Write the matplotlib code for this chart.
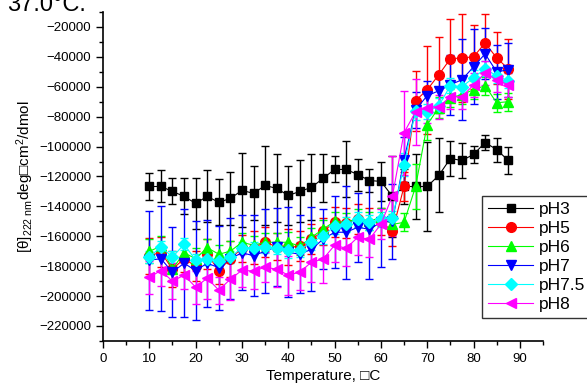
import numpy as np
import matplotlib.pyplot as plt
from matplotlib.ticker import MultipleLocator
from matplotlib.lines import Line2D

plt.rcParams['font.family'] = ['Liberation Sans', 'DejaVu Sans']
plt.rcParams['mathtext.fontset'] = 'custom'
plt.rcParams['mathtext.rm'] = 'Liberation Sans'
plt.rcParams['mathtext.it'] = 'Liberation Sans'

temps = [10, 12.5, 15, 17.5, 20, 22.5, 25, 27.5, 30, 32.5, 35, 37.5, 40, 42.5, 45, 47.5,
         50, 52.5, 55, 57.5, 60, 62.5, 65, 67.5, 70, 72.5, 75, 77.5, 80, 82.5, 85, 87.5]

labels = ['pH3', 'pH5', 'pH6', 'pH7', 'pH7.5', 'pH8']

ph3 = [-126700, -126700, -130000, -133300, -138000, -133300, -137300, -134700, -129300, -131300,
       -126000, -128000, -132700, -130000, -127300, -121300, -115300, -115300, -118700, -122700,
       -123300, -133300, -126700, -126700, -126700, -119300, -108000, -109300, -105300, -97300,
       -102000, -109300]
ph3_err = [9300, 10700, 8700, 12000, 17300, 17300, 15300, 18000, 24700, 18000, 26700, 22700, 20000,
           20700, 22000, 16000, 8700, 18700, 10700, 8000, 13300, 27000, 12000, 22000, 30000, 24700,
           12000, 12000, 6000, 5300, 8000, 9300]

ph5 = [-173000, -170700, -182000, -175000, -180000, -172000, -183000, -175000, -168000, -167600,
       -164000, -167000, -167300, -166700, -162000, -156700, -150700, -151300, -148700, -151300,
       -150000, -156700, -126700, -69300, -62000, -52000, -41300, -40700, -40000, -30700, -40700,
       -48000]
ph5_err = [12000, 10000, 12000, 9000, 10000, 10000, 9000, 12000, 9000, 11000, 10000, 9000, 12000,
           10000, 10000, 9000, 10000, 10000, 10000, 10000, 9000, 10000, 10000, 20000, 29300, 25300,
           26700, 29300, 21300, 19300, 17300, 20000]

ph6 = [-170000, -166700, -182000, -171000, -175000, -167600, -172000, -170000, -164000, -166000,
       -164000, -164000, -164000, -166700, -160700, -155300, -150000, -150700, -148000, -150000,
       -147300, -152000, -150700, -126700, -85300, -74000, -67300, -65300, -62000, -59300, -70700,
       -70000]
ph6_err = [8000, 7000, 7000, 6000, 7000, 6000, 6000, 7000, 6000, 6000, 6000, 6000, 7000, 6000, 6000,
           6000, 6000, 6000, 6000, 6000, 6000, 7000, 6000, 15000, 10000, 7000, 6000, 6000, 6000, 6000,
           6000, 6000]

ph7 = [-176000, -175000, -184000, -178000, -183000, -178000, -181000, -175000, -171000, -173000,
       -170000, -167000, -170700, -172000, -168700, -162000, -157300, -157300, -154000, -155300,
       -150700, -150000, -108700, -75300, -66000, -62700, -58700, -55300, -46700, -38000, -50000,
       -48700]
ph7_err = [33000, 35000, 30000, 36000, 33000, 29000, 28000, 27000, 25000, 27000, 28000, 26000, 30000,
           26000, 28000, 20000, 24000, 31000, 23000, 33000, 30000, 25000, 15000, 12000, 10000, 12000,
           20000, 27000, 25000, 17000, 18000, 18000]

ph75 = [-174000, -167000, -174000, -165300, -176000, -175000, -176400, -174000, -167600, -167600,
        -167000, -168000, -169300, -169000, -164000, -160000, -153300, -152000, -148700, -150700,
        -148700, -148000, -112000, -76000, -76700, -72700, -59300, -60000, -54000, -48000, -52700,
        -56000]
ph75_err = [4000, 4000, 4000, 4000, 4000, 4000, 4000, 4000, 4000, 4000, 4000, 4000, 5000, 5000, 5000,
            5000, 5000, 5000, 5000, 5000, 5000, 5000, 8000, 6000, 5000, 5000, 5000, 5000, 5000, 5000,
            5000, 5000]

ph8 = [-187300, -183000, -190000, -186000, -194000, -188000, -196000, -188700, -182700, -183300,
       -180700, -182000, -186000, -184000, -177300, -175300, -166000, -168000, -160700, -162000,
       -152000, -133000, -90700, -76700, -74000, -73300, -66700, -66700, -58700, -50700, -55300,
       -58700]
ph8_err = [11000, 10000, 12000, 9000, 11000, 14000, 9000, 14000, 11000, 12000, 10000, 12000, 13000,
           12000, 13000, 16000, 11000, 12000, 12000, 12000, 10000, 27000, 28000, 22000, 10000, 8000,
           8000, 8000, 8000, 8000, 8000, 8000]

series = [ph3, ph5, ph6, ph7, ph75, ph8]
errors = [ph3_err, ph5_err, ph6_err, ph7_err, ph75_err, ph8_err]
colors = ['black', 'red', '#00ff00', 'blue', 'cyan', 'magenta']
markers = ['s', 'o', '^', 'v', 'D', '<']
msizes = [6, 7, 7, 7, 6, 7]

fig = plt.figure(figsize=(5.87, 3.87), dpi=100)
ax = fig.add_axes([0.1755, 0.119, 0.7495, 0.850])

for y, e, c, m, ms, lab in zip(series, errors, colors, markers, msizes, labels):
    ax.errorbar(temps, y, yerr=e, color=c, marker=m, markersize=ms, linewidth=0.8,
                elinewidth=1.0, capsize=3, capthick=1.0, label=lab)

ax.set_xlim(0, 95)
ax.set_ylim(-230000, -10000)
ax.xaxis.set_minor_locator(MultipleLocator(5))
ax.yaxis.set_minor_locator(MultipleLocator(10000))
ax.set_xticks(np.arange(0, 91, 10))
ax.set_yticks(np.arange(-220000, -19999, 20000))

ax.spines['top'].set_visible(False)
ax.spines['right'].set_visible(False)
ax.spines['left'].set_linewidth(1.2)
ax.spines['bottom'].set_linewidth(1.2)
ax.tick_params(which='major', direction='out', length=5, width=1, labelsize=9.5)
ax.tick_params(which='minor', direction='out', length=3, width=1)

ax.set_xlabel('Temperature, \u25a1C', fontsize=11, labelpad=3)
ax.set_ylabel('[\u03b8]$_{222\\ nm}$deg\u25a1cm$^2$/dmol', fontsize=11, labelpad=2)

# legend sits partly past the right edge, as in the original
leg_handles = [Line2D([], [], color=c, marker=m, markersize=ms, linewidth=0.8)
               for c, m, ms in zip(colors, markers, msizes)]
leg = fig.legend(leg_handles, labels, loc='upper left', bbox_to_anchor=(482 / 587, 1 - 196 / 387),
                 fontsize=12.5, frameon=True, fancybox=False, edgecolor='black', handlelength=2.6,
                 borderpad=0.35, labelspacing=0.22, handletextpad=0.3, borderaxespad=0)
leg.get_frame().set_linewidth(1.0)

fig.text(0.012, 1 - 11 / 387, '37.0\u00b0C.', fontsize=17, va='baseline', ha='left')

fig.savefig('out.png', dpi=100)
